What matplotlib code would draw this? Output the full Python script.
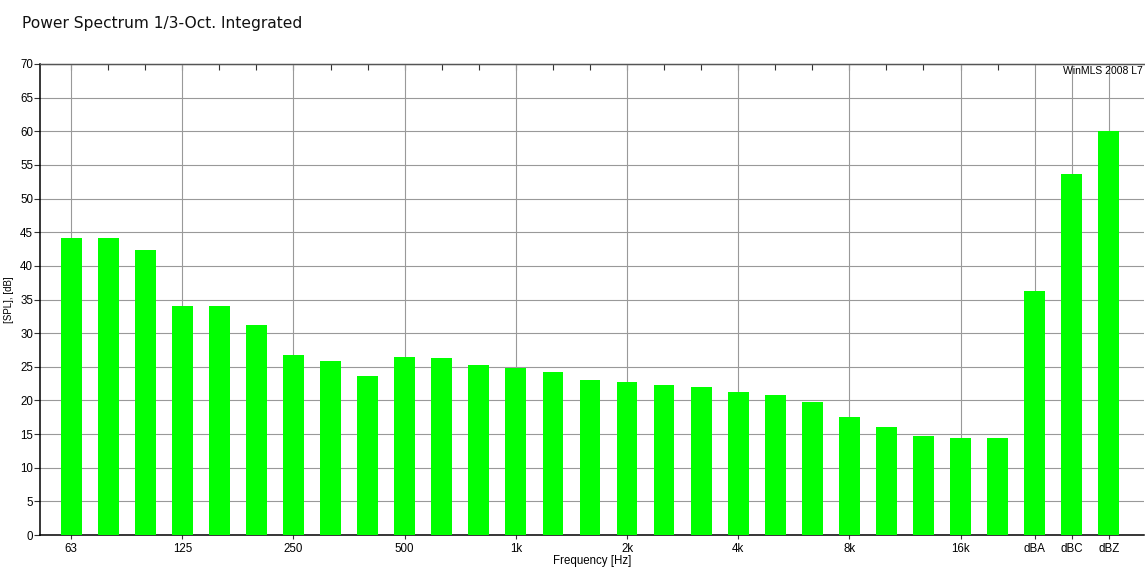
import matplotlib
matplotlib.use("Agg")
import matplotlib.pyplot as plt
import numpy as np

bands = ["63", "80", "100", "125", "160", "200", "250", "315", "400", "500",
         "630", "800", "1k", "1.25k", "1.6k", "2k", "2.5k", "3.15k", "4k", "5k",
         "6.3k", "8k", "10k", "12.5k", "16k", "20k", "dBA", "dBC", "dBZ"]
spl = [44.2, 44.2, 42.3, 34.1, 34.0, 31.2, 26.8, 25.8, 23.7, 26.5,
       26.3, 25.2, 24.8, 24.2, 23.0, 22.8, 22.3, 22.0, 21.3, 20.8,
       19.8, 17.5, 16.1, 14.7, 14.4, 14.4, 36.3, 53.7, 60.1]
shown_labels = ["63", "125", "250", "500", "1k", "2k", "4k", "8k", "16k", "dBA", "dBC", "dBZ"]
yticks = list(range(0, 75, 5))

W, H = 1145, 569
fig = plt.figure(figsize=(W / 100, H / 100), dpi=100)
ax = fig.add_axes([40 / W, 1 - 535 / H, (1144 - 40) / W, (535 - 64) / H])

x = np.arange(len(bands))
ax.bar(x, spl, width=0.56, color="#00ff00", zorder=3, linewidth=0)

ax.set_xlim(-0.84, 28.95)
ax.set_ylim(0, 70)
ax.set_yticks(yticks)
ax.set_yticklabels([str(v) for v in yticks], fontsize=8.3, family="Liberation Sans")

major_pos = [bands.index(b) for b in shown_labels]
ax.set_xticks(major_pos)
ax.set_xticklabels(shown_labels, fontsize=8.3, family="Liberation Sans")
ax.tick_params(axis="x", which="major", length=3, direction="out", pad=3,
               color="#333333", width=0.8)
ax.tick_params(axis="y", length=4, direction="out", pad=1, color="#333333", width=0.8)

# grid
ax.grid(True, axis="both", color="#999999", linewidth=0.8, zorder=0)
ax.set_axisbelow(True)

# top ticks at every third-octave band
ax2 = ax.secondary_xaxis("top")
ax2.set_xticks([i for i in range(26)])
ax2.set_xticklabels([])
ax2.tick_params(axis="x", direction="in", length=4, color="#333333", width=0.8)
ax2.spines["top"].set_color("#555555")
ax2.spines["top"].set_linewidth(0.9)

for s in ["left", "bottom"]:
    ax.spines[s].set_color("black")
    ax.spines[s].set_linewidth(1.1)
ax.spines["right"].set_visible(False)
ax.spines["top"].set_color("#555555")
ax.spines["top"].set_linewidth(0.9)

ax.set_xlabel("Frequency [Hz]", fontsize=8.3, family="Liberation Sans", labelpad=0)
ax.set_ylabel("[SPL], [dB]", fontsize=7, family="Liberation Sans", labelpad=4)

ax.text(0.999, 0.995, "WinMLS 2008 L7", transform=ax.transAxes, ha="right", va="top",
        fontsize=7.5, family="Liberation Sans", zorder=5)

fig.text(22 / W, 1 - 28 / H, "Power Spectrum 1/3-Oct. Integrated", fontsize=11.2,
         family="DejaVu Sans", va="baseline", ha="left", color="#111111")

fig.savefig("out.png", dpi=100, facecolor="white")
